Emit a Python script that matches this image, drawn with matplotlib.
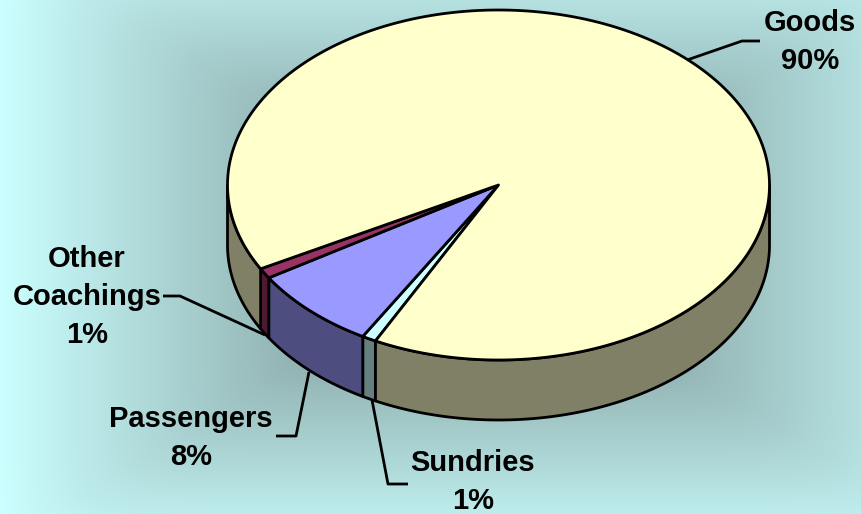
#!/usr/bin/env python3
"""3D style pie of traffic share, drawn on a pixel-sized axes."""

import matplotlib

matplotlib.use("Agg")
import matplotlib.pyplot as plt
import numpy as np

# clockwise from the Goods/Sundries edge
categories = ["Sundries", "Passengers", "Other\nCoachings", "Goods"]
shares = [0.85, 7.75, 0.95, 90.45]
percent_labels = ["1%", "8%", "1%", "90%"]

top_colors = ["#CCFFFF", "#9999FF", "#993366", "#FFFFCC"]
side_colors = ["#668080", "#4D4D80", "#4D1933", "#808066"]

label_pos = [(473, 482), (191, 438), (87, 297), (810, 42)]
leaders = [
    [(408, 484), (388, 484), (372, 400)],
    [(276, 436), (296, 436), (309, 372)],
    [(163, 296), (180, 296), (265, 335)],
    [(687, 60), (742, 41), (760, 41)],
]

W, H = 862, 514
CX, CY = 498.5, 185
RX, RY = 271, 175
DEPTH = 60
START_ANGLE = 27.0  # degrees clockwise from straight down
LW = 2.0


def rim(a0, a1, n=200):
    t = np.radians(np.linspace(a0, a1, n))
    return CX - RX * np.sin(t), CY + RY * np.cos(t)


def draw_side(ax, a0, a1, color):
    # only the front half of the rim is visible (0..90 left, -90..0 right)
    a0, a1 = max(a0, -90), min(a1, 90)
    if a1 <= a0:
        return
    x, y = rim(a0, a1)
    xs = np.r_[x, x[::-1]]
    ys = np.r_[y, y[::-1] + DEPTH]
    ax.fill(xs, ys, facecolor=color, edgecolor="black", lw=LW, joinstyle="round", zorder=2)


fig = plt.figure(figsize=(W / 100, H / 100), dpi=100)
ax = fig.add_axes([0, 0, 1, 1])
ax.set_xlim(0, W)
ax.set_ylim(H, 0)
ax.axis("off")

# rectangular "from centre" gradient background, off-centre with uneven reach
gx, gy = np.meshgrid(np.arange(W) + 0.5, np.arange(H) + 0.5)
dx = np.where(gx < 480, (480 - gx) / 480, (gx - 480) / 510)
dy = np.where(gy < 245, (245 - gy) / 320, (gy - 245) / 316)
t = np.clip((dx**14 + dy**14) ** (1 / 14), 0, 1)[..., None]  # soft corners on the diagonals
inner = np.array([110, 130, 130]) / 255
outer = np.array([204, 255, 255]) / 255
ax.imshow(inner + (outer - inner) * t, extent=(0, W, H, 0), aspect="auto", zorder=0)

angles = START_ANGLE + np.r_[0, np.cumsum(shares)] * 3.6

for a0, a1, side in zip(angles[:-1], angles[1:], side_colors):
    # Goods wraps past the back, so its right part comes round as negative angles
    draw_side(ax, a0, a1, side)
    draw_side(ax, a0 - 360, a1 - 360, side)

for a0, a1, top in zip(angles[:-1], angles[1:], top_colors):
    x, y = rim(a0, a1, 400)
    ax.fill(np.r_[CX, x], np.r_[CY, y], facecolor=top, edgecolor="black", lw=LW, joinstyle="round", zorder=3)

for pts in leaders:
    xs, ys = zip(*pts)
    ax.plot(xs, ys, color="black", lw=LW, zorder=4, solid_capstyle="butt")

for name, pct, (x, y) in zip(categories, percent_labels, label_pos):
    ax.text(x, y, f"{name}\n{pct}", ha="center", va="center", fontsize=21, fontweight="bold",
            family="Liberation Sans", color="black", linespacing=1.44, zorder=5)

fig.savefig("out.png", dpi=100)
